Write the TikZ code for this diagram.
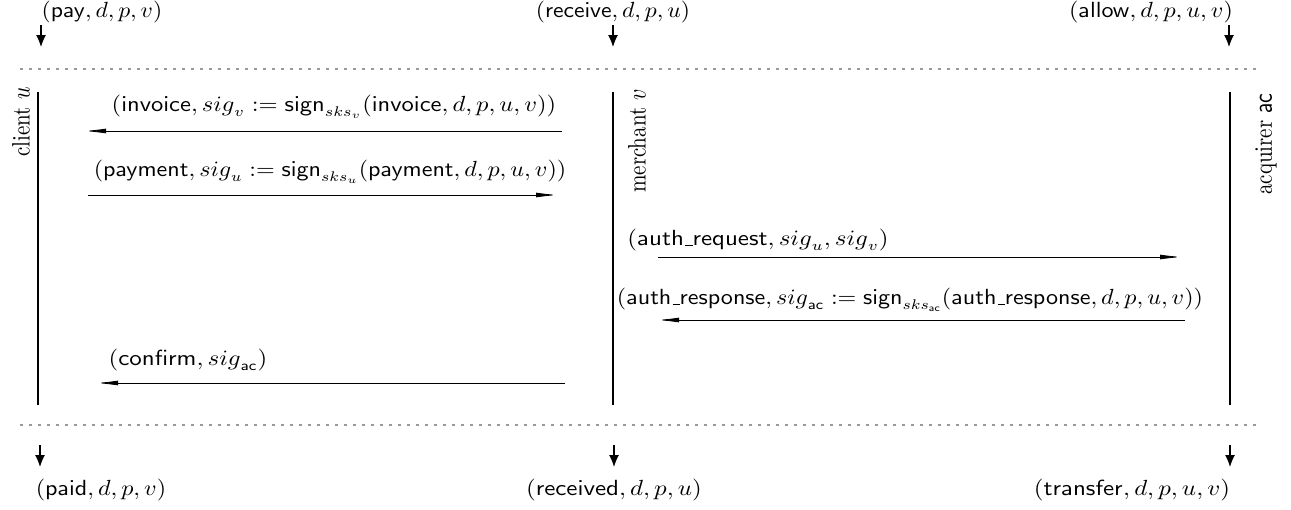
\documentclass[tikz,border=0pt]{standalone}
\usepackage{amsmath}
\usepackage{graphicx}
\usetikzlibrary{arrows.meta,positioning}

\newcommand{\tn}[1]{\mathsf{#1}}
\newcommand{\us}{\kern.06em\vbox{\hrule width.3em}}
\newcommand{\wide}[2][1.14]{\scalebox{#1}[1]{$#2$}}

\begin{document}
\begin{tikzpicture}[
    x=0.5pt, y=-0.5pt,
    >={Latex[length=11pt,width=2.4pt]},
    lifeline/.style={line width=0.8pt},
    message/.style={->, line width=0.4pt},
    io/.style={-{Latex[length=6pt,width=5pt]}, line width=0.6pt},
    sep/.style={gray!80, line width=0.6pt, dash pattern=on 1.5pt off 3pt},
    actor/.style={rotate=90, inner sep=0pt, font=\fontsize{10.5}{12}\selectfont},
    lbl/.style={font=\fontsize{10.5}{12}\selectfont, inner sep=0pt},
]
\useasboundingbox (0,0) rectangle (1291,509);

% Actors
\node[actor] (client) at (21,122) {\scalebox{1}[1.2]{client $u$}};
\node[actor] (merchant) at (637,141) {\scalebox{1}[1.2]{merchant $v$}};
\node[actor] (acquirer) at (1266,144) {\scalebox{1}[1.2]{acquirer $\tn{ac}$}};

% Lifelines
\coordinate (cTop) at (38,92);   \coordinate (cBot) at (38,405);
\coordinate (mTop) at (613,92);  \coordinate (mBot) at (613,405);
\coordinate (aTop) at (1230,92); \coordinate (aBot) at (1230,405);
\draw[lifeline] (cTop) -- (cBot);
\draw[lifeline] (mTop) -- (mBot);
\draw[lifeline] (aTop) -- (aBot);

% Separators
\coordinate (sepTL) at (20,69);  \coordinate (sepTR) at (1262,69);
\coordinate (sepBL) at (20,425); \coordinate (sepBR) at (1262,425);
\draw[sep] (sepTL) -- (sepTR);
\draw[sep] (sepBL) -- (sepBR);

% Inputs
\node[lbl] (pay) at (102,12) {\wide[1.08]{(\tn{pay}, d, p, v)}};
\node[lbl] (receive) at (613,12) {\wide[1.08]{(\tn{receive}, d, p, u)}};
\node[lbl] (allow) at (1151,12) {\wide[1.1]{(\tn{allow}, d, p, u, v)}};
\coordinate (payA) at (41,25);     \coordinate (payB) at (41,47);
\coordinate (recA) at (613,25);    \coordinate (recB) at (613,47);
\coordinate (allA) at (1229,25);   \coordinate (allB) at (1229,47);
\draw[io] (payA) -- (payB);
\draw[io] (recA) -- (recB);
\draw[io] (allA) -- (allB);

% Outputs
\node[lbl] (paid) at (101,490) {\wide[1.1]{(\tn{paid}, d, p, v)}};
\node[lbl] (received) at (614,490) {\wide{(\tn{received}, d, p, u)}};
\node[lbl] (transfer) at (1132,490) {\wide{(\tn{transfer}, d, p, u, v)}};
\coordinate (paidA) at (40,445);   \coordinate (paidB) at (40,467);
\coordinate (rcvdA) at (614,445);  \coordinate (rcvdB) at (614,467);
\coordinate (trfA) at (1230,445);  \coordinate (trfB) at (1230,467);
\draw[io] (paidA) -- (paidB);
\draw[io] (rcvdA) -- (rcvdB);
\draw[io] (trfA) -- (trfB);

% Messages
\node[lbl] (invoice) at (334,107) {\wide[1.12]{(\tn{invoice}, {sig}_v := \tn{sign}_{{sks}_v}(\tn{invoice}, d, p, u, v))}};
\coordinate (invA) at (562,131); \coordinate (invB) at (84,131);
\draw[message] (invA) -- (invB);

\node[lbl] (payment) at (330,172) {\wide[1.1]{(\tn{payment}, {sig}_u := \tn{sign}_{{sks}_u}(\tn{payment}, d, p, u, v))}};
\coordinate (pmtA) at (88,195); \coordinate (pmtB) at (558,195);
\draw[message] (pmtA) -- (pmtB);

\node[lbl] (authreq) at (758,240) {\wide{(\tn{auth\us request}, {sig}_u, {sig}_v)}};
\coordinate (reqA) at (658,257); \coordinate (reqB) at (1182,257);
\draw[message] (reqA) -- (reqB);

\node[lbl] (authresp) at (910,300) {\wide[1.1]{(\tn{auth\us response}, {sig}_{\tn{ac}} := \tn{sign}_{{sks}_{\tn{ac}}}(\tn{auth\us response}, d, p, u, v))}};
\coordinate (rspA) at (1185,320); \coordinate (rspB) at (657,320);
\draw[message] (rspA) -- (rspB);

\node[lbl] (confirm) at (188,360) {\wide{(\tn{confirm}, {sig}_{\tn{ac}})}};
\coordinate (cnfA) at (565,383); \coordinate (cnfB) at (96,383);
\draw[message] (cnfA) -- (cnfB);

\end{tikzpicture}
\end{document}
